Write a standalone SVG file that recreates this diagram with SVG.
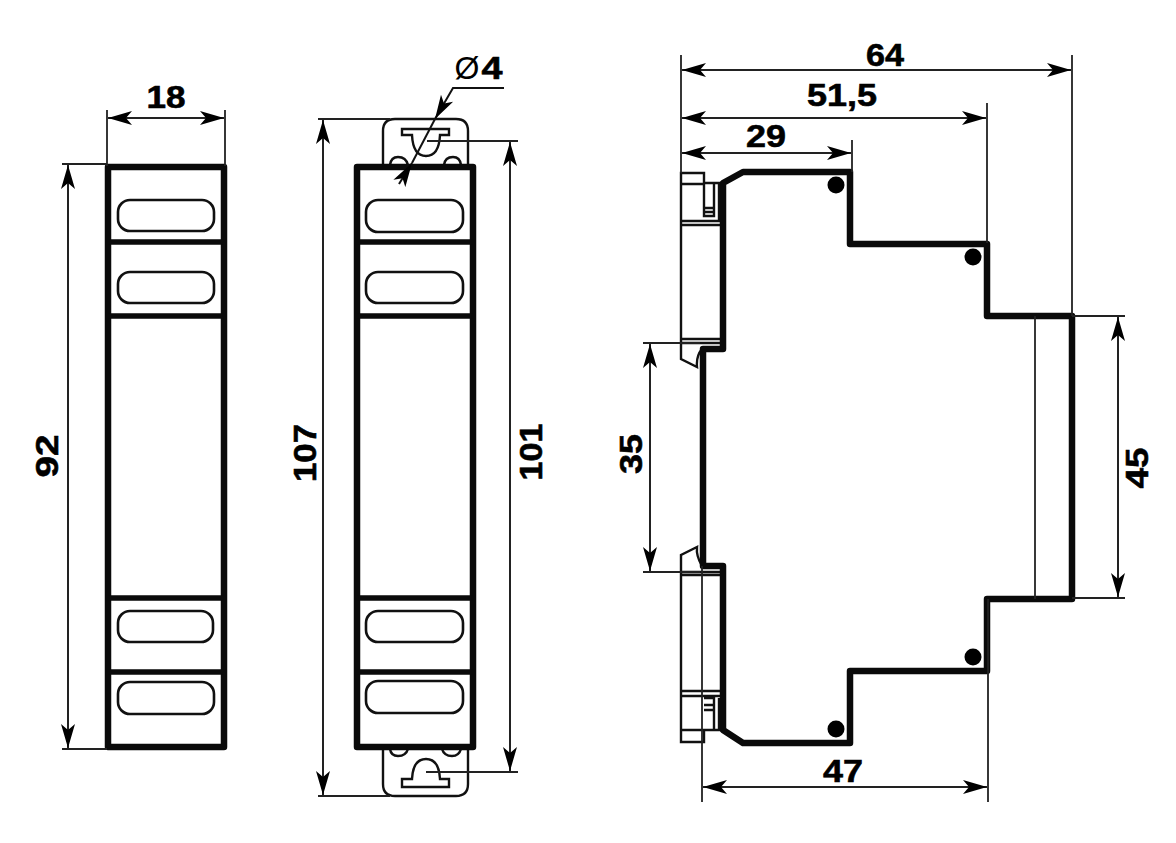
<svg xmlns="http://www.w3.org/2000/svg" width="1176" height="843" viewBox="0 0 1176 843">
<style>
.thick{fill:none;stroke:#0a0a0a;stroke-width:6.5;stroke-linejoin:round;stroke-linecap:round}
.bar{fill:none;stroke:#0a0a0a;stroke-width:5.5}
.slot{fill:none;stroke:#111;stroke-width:2.6}
.part{fill:none;stroke:#111;stroke-width:2.4}
.thin{fill:none;stroke:#222;stroke-width:1.8}
.dim{fill:none;stroke:#222;stroke-width:2;marker-start:url(#arrow);marker-end:url(#arrow)}
.lead{fill:none;stroke:#111;stroke-width:2}
.label{font-family:"Liberation Sans",Arial,sans-serif;font-weight:700;font-size:32px;fill:#000;stroke:#000;stroke-width:.6;text-anchor:middle}
.sym{font-family:"Liberation Sans",Arial,sans-serif;font-size:32px;fill:#000;text-anchor:middle}
</style>
<defs>
<marker id="arrow" markerUnits="userSpaceOnUse" markerWidth="25" markerHeight="16" refX="24" refY="8" orient="auto-start-reverse">
<path d="M24 8 L0 1 L6 8 L0 15 Z" fill="#000"/>
</marker>
<marker id="tip" markerUnits="userSpaceOnUse" markerWidth="25" markerHeight="16" refX="24" refY="8" orient="auto">
<path d="M24 8 L0 1 L6 8 L0 15 Z" fill="#000"/>
</marker>
</defs>
<rect width="1176" height="843" fill="#fff"/>

<g id="front-view">
<rect class="thick" x="108" y="167" width="116" height="580"/>
<path class="bar" d="M108 242H224M108 316H224M108 598H224M108 672H224"/>
<rect class="slot" x="118" y="200" width="96" height="31" rx="12"/>
<rect class="slot" x="118" y="272" width="96" height="31" rx="12"/>
<rect class="slot" x="118" y="611" width="95" height="31" rx="12"/>
<rect class="slot" x="118" y="682" width="96" height="32" rx="12"/>
</g>

<g id="mount-view">
<path class="part" d="M383 165V131Q383 119 395 119H456Q468 119 468 131V165"/>
<path class="part" d="M402 129H449V135H440Q439 156 426 156Q413 156 412 135H402Z"/>
<path class="part" d="M390 165Q391 157 398 157Q406 157 408 165M444 165Q445 157 453 157Q460 157 461 165"/>
<path class="part" d="M383 749V784Q383 796 395 796H456Q468 796 468 784V749"/>
<path class="part" d="M402 787H449V779H440Q439 759 426 759Q413 759 412 779H402Z"/>
<path class="part" d="M390 749Q391 756 398 756Q406 756 408 749M442 749Q444 756 452 756Q459 756 461 749"/>
<rect class="thick" x="357" y="167" width="116" height="580"/>
<path class="bar" d="M357 242H473M357 316H473M357 598H473M357 672H473"/>
<rect class="slot" x="366" y="200" width="97" height="32" rx="12"/>
<rect class="slot" x="366" y="272" width="97" height="31" rx="12"/>
<rect class="slot" x="366" y="611" width="97" height="31" rx="12"/>
<rect class="slot" x="366" y="681" width="97" height="32" rx="12"/>
</g>

<g id="side-view">
<path class="part" d="M723 183H704V173H681V359L697 367Q696 356 702 349"/>
<path class="part" d="M681 184H704V216H714V183M704 208H714M704 212H714M719 183V221M681 221H723M681 225H723M681 339H723M681 343H723"/>
<path class="part" d="M702 566Q696 556 697 547L681 555V742H704V730M681 572H723M681 575H723M681 691H723M681 696H723M681 730H723M704 698H714V730M704 705H714M704 710H714M719 698V730"/>
<path class="thick" d="M723 183L743 172H850V244H987V316H1072V599H987V671H850V743H743L723 730V566H703V349H723Z"/>
<path class="thin" d="M1035 316V599"/>
<circle cx="836" cy="185" r="8.5"/>
<circle cx="973" cy="257" r="8.5"/>
<circle cx="973" cy="657" r="8.5"/>
<circle cx="836" cy="729" r="8.5"/>
</g>

<g id="connectors">
<path class="thin" d="M107 110V166M225 110V166M62 164H107M62 749H107"/>
<path class="dim" d="M108 118H224"/>
<path class="dim" d="M68 165V748"/>
<path class="thin" d="M318 119H390M318 796H390M427 141H518M426 772H518"/>
<path class="dim" d="M323 120V795"/>
<path class="dim" d="M510 142V771"/>
<path class="thin" d="M681 55V173M1072 55V316M987 103V243M852 140V172M702 566V802M988 599V802M643 343H700M643 572H700M1072 316H1125M1072 598H1125"/>
<path class="dim" d="M682 70H1071"/>
<path class="dim" d="M682 118H986"/>
<path class="dim" d="M682 153H851"/>
<path class="dim" d="M703 787H987"/>
<path class="dim" d="M650 344V571"/>
<path class="dim" d="M1118 317V597"/>
<path class="lead" d="M504 88H453L435 119" marker-end="url(#tip)"/>
<path class="lead" d="M399 184L412 163" marker-end="url(#tip)"/>
<path class="lead" d="M435 119L412 163"/>
</g>

<g id="labels">
<text class="label" x="166" y="108" textLength="39" lengthAdjust="spacingAndGlyphs">18</text>
<text class="label" transform="translate(58 456) rotate(-90)" textLength="43" lengthAdjust="spacingAndGlyphs">92</text>
<text class="label" transform="translate(316 453) rotate(-90)" textLength="58" lengthAdjust="spacingAndGlyphs">107</text>
<text class="label" transform="translate(542 452) rotate(-90)" textLength="57" lengthAdjust="spacingAndGlyphs">101</text>
<text class="label" transform="translate(642 454) rotate(-90)" textLength="40" lengthAdjust="spacingAndGlyphs">35</text>
<text class="label" transform="translate(1148 468) rotate(-90)" textLength="41" lengthAdjust="spacingAndGlyphs">45</text>
<text class="label" x="885" y="66" textLength="38" lengthAdjust="spacingAndGlyphs">64</text>
<text class="label" x="842" y="106" textLength="70" lengthAdjust="spacingAndGlyphs">51,5</text>
<text class="label" x="766" y="147" textLength="40" lengthAdjust="spacingAndGlyphs">29</text>
<text class="label" x="843" y="782" textLength="40" lengthAdjust="spacingAndGlyphs">47</text>
<text class="sym" x="467" y="79">Ø</text>
<text class="label" x="492" y="79" textLength="21" lengthAdjust="spacingAndGlyphs">4</text>
</g>
</svg>
